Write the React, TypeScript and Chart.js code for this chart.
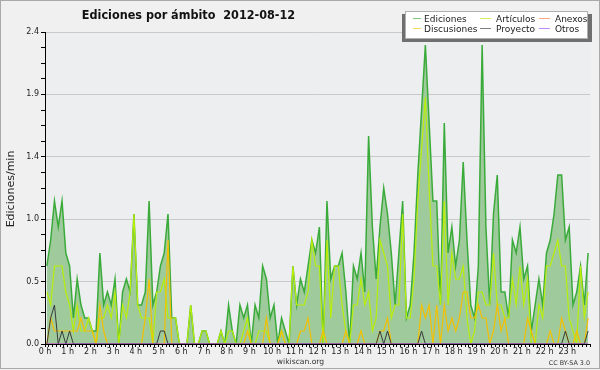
import React, { useEffect, useRef } from 'react';
import { Chart, registerables } from 'chart.js';

Chart.register(...registerables);

// ---- data (edits per minute, 10-minute slots, 2012-08-12) ----
const SLOTS_PER_HOUR = 6;
const HOURS = 24;
const TITLE = 'Ediciones por ámbito  2012-08-12';
const Y_TITLE = 'Ediciones/min';
const FOOTER = 'wikiscan.org';
const LICENSE = 'CC BY-SA 3.0';
const Y_MAX = 2.4;
const Y_MINOR_STEP = 0.12;
const Y_MAJOR_EVERY = 4;

const EDICIONES = [
  0.6, 0.8, 1.1, 0.9, 1.1, 0.7, 0.6, 0.2, 0.5, 0.3, 0.2, 0.2,
  0.1, 0.1, 0.7, 0.3, 0.4, 0.3, 0.5, 0, 0.4, 0.5, 0.4, 1.0,
  0.3, 0.3, 0.4, 1.1, 0.3, 0.4, 0.6, 0.7, 1.0, 0.2, 0.2, 0,
  0, 0, 0.3, 0, 0, 0.1, 0.1, 0, 0, 0, 0.1, 0,
  0.3, 0.1, 0, 0.3, 0.2, 0.3, 0, 0.3, 0.2, 0.6, 0.5, 0.2,
  0.3, 0, 0.2, 0.1, 0, 0.6, 0.3, 0.5, 0.4, 0.6, 0.8, 0.7,
  0.9, 0, 1.1, 0.5, 0.6, 0.6, 0.7, 0.4, 0, 0.6, 0.5, 0.7,
  0.4, 1.6, 0.9, 0.5, 0.9, 1.2, 1.0, 0.7, 0.3, 0.7, 1.1, 0.2,
  0.3, 0.7, 1.3, 1.8, 2.3, 1.7, 1.1, 1.1, 0.3, 1.7, 0.7, 0.9,
  0.6, 0.8, 1.4, 0.8, 0.3, 0.2, 0.6, 2.3, 0.9, 0.3, 1.0, 1.3,
  0.4, 0.4, 0.2, 0.8, 0.7, 0.9, 0.5, 0.6, 0.1, 0.3, 0.5, 0.3,
  0.7, 0.8, 1.0, 1.3, 1.3, 0.8, 0.9, 0.3, 0.4, 0.6, 0.3, 0.7,
];

const ARTICULOS = [
  0.4, 0.3, 0.6, 0.6, 0.6, 0.4, 0.3, 0.1, 0.3, 0.1, 0.1, 0.2,
  0.1, 0, 0.2, 0.2, 0.3, 0.2, 0.4, 0, 0.3, 0.2, 0.4, 1.0,
  0.3, 0.2, 0.2, 0.2, 0, 0.4, 0.4, 0.5, 0.2, 0.2, 0.2, 0,
  0, 0, 0.3, 0, 0, 0.1, 0.1, 0, 0, 0, 0.1, 0,
  0.1, 0.1, 0, 0, 0.1, 0.2, 0, 0, 0.1, 0.1, 0.1, 0,
  0, 0, 0.1, 0, 0, 0.6, 0.3, 0.3, 0.3, 0.4, 0.8, 0.6,
  0.6, 0, 0.8, 0.2, 0.6, 0.6, 0.3, 0.1, 0, 0.3, 0.3, 0.5,
  0.3, 0.4, 0.1, 0.2, 0.8, 0.7, 0.6, 0.2, 0.3, 0.3, 1.0, 0.2,
  0.2, 0.5, 1.1, 1.5, 1.9, 1.2, 0.6, 0.6, 0.3, 1.1, 0.3, 0.7,
  0.5, 0.5, 0.6, 0.2, 0, 0.1, 0.4, 0.4, 0.3, 0.3, 0.7, 0.3,
  0.3, 0.2, 0.2, 0.5, 0.3, 0.6, 0.3, 0.5, 0, 0, 0.3, 0.2,
  0.6, 0.6, 0.7, 0.8, 0.6, 0.6, 0.2, 0.1, 0, 0.6, 0.2, 0.4,
];

const DISCUSIONES = [
  0, 0.2, 0.1, 0.1, 0.1, 0.1, 0.1, 0.1, 0.1, 0.2, 0.1, 0.1,
  0.1, 0, 0.3, 0.1, 0, 0, 0, 0, 0, 0, 0, 0,
  0, 0, 0.2, 0.5, 0, 0, 0, 0, 0.8, 0, 0, 0,
  0, 0, 0, 0, 0, 0, 0, 0, 0, 0, 0, 0,
  0, 0, 0, 0, 0, 0.1, 0, 0, 0, 0, 0.2, 0,
  0, 0, 0.1, 0, 0, 0, 0, 0.1, 0.1, 0.2, 0, 0,
  0, 0.1, 0, 0, 0, 0, 0, 0.1, 0, 0, 0, 0.1,
  0, 0, 0, 0, 0.1, 0.1, 0.2, 0, 0, 0, 0, 0,
  0, 0, 0, 0.3, 0.2, 0.3, 0, 0.3, 0, 0.3, 0.1, 0.2,
  0.1, 0.2, 0.4, 0.4, 0.2, 0.2, 0.3, 0.2, 0.2, 0, 0.1, 0.3,
  0.1, 0.2, 0, 0, 0, 0, 0, 0.2, 0.1, 0, 0, 0,
  0, 0.1, 0, 0, 0.2, 0.1, 0, 0, 0.1, 0, 0, 0.2,
];

const ANEXOS = [
  0, 0, 0, 0, 0, 0, 0, 0, 0, 0, 0, 0,
  0, 0, 0, 0, 0, 0, 0, 0, 0, 0, 0, 0,
  0, 0, 0, 0, 0, 0, 0, 0, 0, 0, 0, 0,
  0, 0, 0, 0, 0, 0, 0, 0, 0, 0, 0, 0,
  0, 0, 0, 0, 0, 0, 0, 0, 0, 0, 0, 0,
  0, 0, 0, 0, 0, 0, 0, 0, 0, 0, 0, 0,
  0, 0, 0, 0, 0, 0, 0, 0, 0, 0, 0, 0,
  0, 0, 0, 0, 0, 0, 0, 0, 0, 0, 0, 0,
  0, 0, 0, 0, 0, 0, 0, 0, 0, 0, 0, 0,
  0, 0, 0, 0, 0, 0, 0, 0, 0, 0, 0, 0,
  0, 0, 0, 0, 0, 0, 0, 0, 0, 0, 0, 0,
  0, 0, 0, 0, 0, 0, 0, 0, 0, 0, 0, 0,
];

const PROYECTO = [
  0, 0.2, 0.3, 0, 0.1, 0, 0.1, 0, 0, 0, 0, 0,
  0, 0, 0, 0, 0, 0, 0, 0, 0, 0, 0, 0,
  0, 0, 0, 0, 0, 0, 0.1, 0.1, 0, 0, 0, 0,
  0, 0, 0, 0, 0, 0, 0, 0, 0, 0, 0, 0,
  0, 0, 0, 0, 0, 0, 0, 0, 0, 0, 0, 0,
  0, 0, 0, 0, 0, 0, 0, 0, 0, 0, 0, 0,
  0, 0, 0, 0, 0, 0, 0, 0, 0, 0, 0, 0,
  0, 0, 0, 0, 0.1, 0, 0.1, 0, 0, 0, 0, 0,
  0, 0, 0, 0.1, 0, 0, 0, 0, 0, 0, 0, 0,
  0, 0, 0, 0, 0, 0, 0, 0, 0, 0, 0, 0,
  0, 0, 0, 0, 0, 0, 0, 0, 0, 0, 0, 0,
  0, 0, 0, 0, 0, 0.1, 0, 0, 0, 0, 0, 0.1,
];

const OTROS = [
  0, 0, 0, 0, 0, 0, 0, 0, 0, 0, 0, 0,
  0, 0, 0, 0, 0, 0, 0, 0, 0, 0, 0, 0,
  0, 0, 0, 0, 0, 0, 0, 0, 0, 0, 0, 0,
  0, 0, 0, 0, 0, 0, 0, 0, 0, 0, 0, 0,
  0, 0, 0, 0, 0, 0, 0, 0, 0, 0, 0, 0,
  0, 0, 0, 0, 0, 0, 0, 0, 0, 0, 0, 0,
  0, 0, 0, 0, 0, 0, 0, 0, 0, 0, 0, 0,
  0, 0, 0, 0, 0, 0, 0, 0, 0, 0, 0, 0,
  0, 0, 0, 0, 0, 0, 0, 0, 0, 0, 0, 0,
  0, 0, 0, 0, 0, 0, 0, 0, 0, 0, 0, 0,
  0, 0, 0, 0, 0, 0, 0, 0, 0, 0, 0, 0,
  0, 0, 0, 0, 0, 0, 0, 0, 0, 0, 0, 0,
];

// legend layout: [column][row]
const SERIES = [
  { label: 'Ediciones', data: EDICIONES, color: '#3aab3a', fill: '#9fca9c', width: 1.5, col: 0, row: 0 },
  { label: 'Artículos', data: ARTICULOS, color: '#b8ee08', fill: '', width: 1.2, col: 1, row: 0 },
  { label: 'Anexos', data: ANEXOS, color: '#ff7a45', fill: '', width: 1, col: 2, row: 0 },
  { label: 'Discusiones', data: DISCUSIONES, color: '#f4c000', fill: '', width: 1.2, col: 0, row: 1 },
  { label: 'Proyecto', data: PROYECTO, color: '#3a3a3a', fill: '', width: 1, col: 1, row: 1 },
  { label: 'Otros', data: OTROS, color: '#9a4dff', fill: '', width: 1, col: 2, row: 1 },
];
// draw order in the picture: Ediciones first, then the rest over it
const DRAW_ORDER = ['Otros', 'Proyecto', 'Anexos', 'Discusiones', 'Artículos', 'Ediciones'];

const FONT = '"DejaVu Sans", "Liberation Sans", sans-serif';

const decorPlugin = {
  id: 'decor',
  beforeDraw(chart: any) {
    const { ctx, width, height, chartArea: a } = chart;
    ctx.save();
    ctx.fillStyle = '#f0f0f0';
    ctx.fillRect(0, 0, width, height);
    ctx.fillStyle = '#edeef0';
    ctx.fillRect(a.left, a.top, a.right - a.left, a.bottom - a.top);
    ctx.strokeStyle = '#a9a9a9';
    ctx.lineWidth = 1;
    ctx.strokeRect(0.5, 0.5, width - 1, height - 2);
    ctx.restore();
  },
  afterDatasetsDraw(chart: any) {
    const { ctx, chartArea: a } = chart;
    ctx.save();
    ctx.strokeStyle = '#000';
    ctx.lineWidth = 1;
    ctx.beginPath();
    ctx.moveTo(a.left + 0.5, a.top);
    ctx.lineTo(a.left + 0.5, a.bottom + 0.5);
    ctx.lineTo(a.right, a.bottom + 0.5);
    ctx.stroke();
    ctx.restore();
  },
  afterDraw(chart: any) {
    const { ctx } = chart;
    ctx.save();
    // title: condensed bold if available, otherwise regular bold 11px
    ctx.fillStyle = '#111';
    ctx.textAlign = 'center';
    ctx.textBaseline = 'alphabetic';
    ctx.font = `bold 12.5px "DejaVu Sans Condensed"`;
    const w = ctx.measureText(TITLE).width;
    if (w > 220 || w < 150) ctx.font = `bold 11px ${FONT}`;
    ctx.fillText(TITLE, 188.5, 19);

    // y title
    ctx.save();
    ctx.translate(14, 189);
    ctx.rotate(-Math.PI / 2);
    ctx.font = `11px ${FONT}`;
    ctx.fillStyle = '#222';
    ctx.textAlign = 'center';
    ctx.fillText(Y_TITLE, 0, 0);
    ctx.restore();

    // footer
    ctx.font = `7.6px ${FONT}`;
    ctx.fillStyle = '#333';
    ctx.textAlign = 'center';
    ctx.fillText(FOOTER, 300.5, 364);
    ctx.font = `6.4px ${FONT}`;
    ctx.textAlign = 'right';
    ctx.fillText(LICENSE, 590, 365);

    // legend box with shadow
    ctx.fillStyle = '#6f6f6f';
    ctx.fillRect(402, 14, 190, 28);
    ctx.fillStyle = '#ffffff';
    ctx.fillRect(405, 11, 183, 28);
    ctx.strokeStyle = '#b0b0b0';
    ctx.lineWidth = 1;
    ctx.strokeRect(405.5, 11.5, 182, 27);

    const markX = [[413, 421], [480, 491], [539, 550]];
    const textX = [424, 496, 555];
    const baseY = [22, 32];
    ctx.font = `9px ${FONT}`;
    ctx.textAlign = 'left';
    SERIES.forEach((s) => {
      const [m0, m1] = markX[s.col];
      const y = baseY[s.row];
      ctx.strokeStyle = s.color;
      ctx.globalAlpha = 0.65;
      ctx.beginPath();
      ctx.moveTo(m0, y - 3.5);
      ctx.lineTo(m1, y - 3.5);
      ctx.stroke();
      ctx.globalAlpha = 1;
      ctx.fillStyle = '#1a1a1a';
      ctx.fillText(s.label, textX[s.col], y);
    });
    ctx.restore();
  },
};

export default function App() {
  const ref = useRef<HTMLCanvasElement>(null);
  useEffect(() => {
    document.body.style.margin = '0';
    const canvas = ref.current;
    if (!canvas) return;
    const datasets = DRAW_ORDER.map((name, k) => {
      const s = SERIES.find((q) => q.label === name)!;
      return {
        label: s.label,
        data: s.data.map((v, i) => ({ x: i + 0.5, y: v })),
        borderColor: s.color,
        backgroundColor: s.fill || s.color,
        borderWidth: s.width,
        fill: s.fill ? 'origin' : false,
        pointRadius: 0,
        tension: 0,
        order: k,
      };
    });
    const slots = SLOTS_PER_HOUR * HOURS;
    const chart = new Chart(canvas, {
      type: 'line',
      data: { datasets } as any,
      plugins: [decorPlugin],
      options: {
        animation: false,
        responsive: false,
        devicePixelRatio: 1,
        layout: { padding: { top: 32, right: 10, left: 0, bottom: 0 } },
        plugins: { legend: { display: false }, tooltip: { enabled: false }, title: { display: false } },
        scales: {
          x: {
            type: 'linear',
            min: 0,
            max: slots,
            afterBuildTicks: (scale: any) => {
              scale.ticks = Array.from({ length: slots + 1 }, (_, k) => ({ value: k }));
            },
            afterFit: (scale: any) => {
              scale.height = 26;
            },
            border: { display: false },
            grid: { drawOnChartArea: false, tickLength: 3, tickColor: '#000', color: '#000' },
            ticks: {
              autoSkip: false,
              maxRotation: 0,
              padding: 0,
              color: '#222',
              font: { family: FONT, size: 8 },
              callback: (v: any) => (v % SLOTS_PER_HOUR === 0 && v < slots ? `${v / SLOTS_PER_HOUR} h` : ''),
            },
          },
          y: {
            type: 'linear',
            min: 0,
            max: Y_MAX,
            afterBuildTicks: (scale: any) => {
              const n = Math.round(Y_MAX / Y_MINOR_STEP);
              scale.ticks = Array.from({ length: n + 1 }, (_, k) => ({ value: +(k * Y_MINOR_STEP).toFixed(2) }));
            },
            afterFit: (scale: any) => {
              scale.width = 45;
            },
            border: { display: false },
            grid: {
              tickLength: 4,
              tickColor: '#000',
              color: (c: any) => (c.index > 0 && c.index % Y_MAJOR_EVERY === 0 ? '#c9c9c9' : 'rgba(0,0,0,0)'),
            },
            ticks: {
              autoSkip: false,
              padding: 2,
              color: '#222',
              font: { family: FONT, size: 8 },
              callback: (v: any, i: number) => (i % Y_MAJOR_EVERY === 0 ? Number(v).toFixed(1) : ''),
            },
          },
        },
      } as any,
    });
    return () => chart.destroy();
  }, []);
  return <canvas ref={ref} width={600} height={370} style={{ display: 'block' }} />;
}
